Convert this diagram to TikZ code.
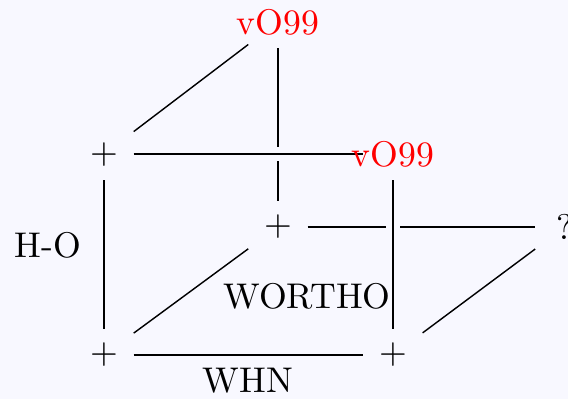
\documentclass[tikz,border=0pt]{standalone}

\definecolor{paper}{RGB}{248,248,255}
\pgfdeclarelayer{paperlayer}
\pgfdeclarelayer{edgelayer}
\pgfsetlayers{paperlayer,edgelayer,main}

\begin{document}
\begin{tikzpicture}[
    vertex/.style={minimum width=0.57cm, minimum height=0.5cm, inner sep=0pt},
    over/.style={preaction={draw=paper, line width=4pt}}
  ]
    \useasboundingbox (0,0) rectangle (5.591,3.927);
    \begin{pgfonlayer}{paperlayer}
        \fill[paper] (0,0) rectangle (5.591,3.927);
    \end{pgfonlayer}

    % corners of the cube
    \node[vertex, red] (topv) at (2.736,3.711) {\makebox[0pt]{vO99}};
    \node[vertex] (ftl) at (1.024,2.41) {$+$};
    \node[vertex, red] (ftr) at (3.868,2.41) {\makebox[0pt]{vO99}};
    \node[vertex] (bm) at (2.736,1.693) {$+$};
    \node[vertex] (br) at (5.56,1.693) {?};
    \node[vertex] (fbl) at (1.024,0.433) {$+$};
    \node[vertex] (fbr) at (3.868,0.433) {$+$};

    % labels
    \node (ho) at (0.472,1.516) {H-O};
    \node (wortho) at (3.022,1.014) {WORTHO};
    \node (whn) at (2.441,0.177) {WHN};

    \begin{pgfonlayer}{edgelayer}
        \draw (topv) -- (ftl);
        \draw (topv) -- (bm);
        \draw (bm) -- (br);
        \draw (bm) -- (fbl);
        \draw (br) -- (fbr);
        \draw (ftl) -- (fbl);
        \draw (fbl) -- (fbr);
        \draw[over] (ftl) -- (ftr);
        \draw[over] (ftr) -- (fbr);
    \end{pgfonlayer}
\end{tikzpicture}
\end{document}
